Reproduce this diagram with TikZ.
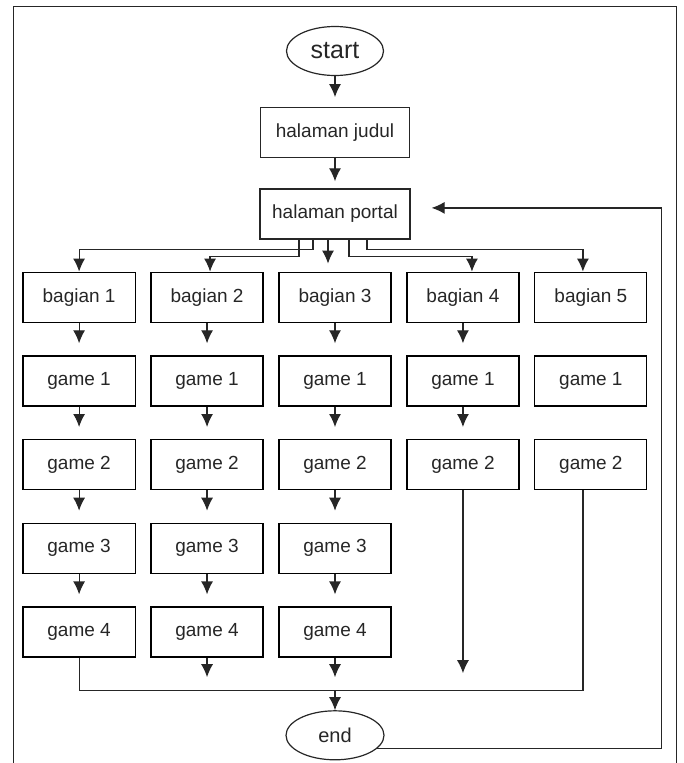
\documentclass[tikz,border=0pt]{standalone}
\usepackage{fontspec}
\setmainfont{Liberation Sans}
\usepackage{tikz}
\usetikzlibrary{matrix,positioning,shapes.geometric,arrows.meta}

\begin{document}
\begin{tikzpicture}[
    x=1pt, y=1pt,
    color=black!85,
    line width=1.2pt,
    box/.style={draw, rectangle, minimum width=112pt, minimum height=50pt,
      inner sep=2pt, font=\fontsize{19}{22}\selectfont},
    term/.style={draw, ellipse, minimum width=97pt, minimum height=49pt, inner sep=0pt},
    net/.style={
      matrix of nodes,
      nodes={box},
      column sep=14.75pt,
      row sep=32.5pt,
      inner sep=0pt
    },
    flow/.style={->, shorten >=12pt},
    >={Latex[length=13pt,width=12pt]}
]
  \useasboundingbox (0,0) rectangle (683,-763);

  % frame
  \draw[line width=1pt] (13,-780) |- (676,-6) -- (676,-780);

  % top of the chart
  \node[term, font=\fontsize{25}{28}\selectfont] (start) at (335,-51) {start};
  \node[box, minimum width=149pt, below=31pt of start] (judul) {halaman judul};
  \node[box, minimum width=150pt, below=30pt of judul] (portal) {halaman portal};

  % Define the matrix
  \matrix[net, below=31.5pt of portal] (mat) {
    bagian 1 & bagian 2 & bagian 3 & bagian 4 & bagian 5 \\
    game 1 & game 1 & game 1 & game 1 & game 1 \\
    game 2 & game 2 & game 2 & game 2 & game 2 \\
    game 3 & game 3 & game 3 & & \\
    game 4 & game 4 & game 4 & & \\
  };

  \coordinate[below=32pt of mat] (bus);
  \node[term, minimum width=98pt, font=\fontsize{20}{24}\selectfont, below=52pt of mat] (end) {end};

  \draw[->, shorten >=10pt] (start) -- (judul);
  \draw[->, shorten >=7pt] (judul) -- (portal);

  % portal to the parts
  \draw[->] ([xshift=-22pt]portal.south) -- ++(0,-10) -| (mat-1-1.north);
  \draw[->] ([xshift=-36pt]portal.south) -- ++(0,-17) -| ([xshift=3pt]mat-1-2.north);
  \draw[->, shorten >=8pt] ([xshift=-7pt]portal.south) -- ([xshift=-7pt]portal.south |- mat-1-3.north);
  \draw[->] ([xshift=14pt]portal.south) -- ++(0,-17) -| ([xshift=9pt]mat-1-4.north);
  \draw[->] ([xshift=32pt]portal.south) -- ++(0,-10) -| ([xshift=-8pt]mat-1-5.north);

  % parts to games
  \foreach \c in {1,2,3}
    \foreach \r [count=\s from 2] in {1,...,4}
      \draw[flow] (mat-\r-\c) -- (mat-\s-\c);
  \foreach \r [count=\s from 2] in {1,2}
    \draw[flow] (mat-\r-4) -- (mat-\s-4);

  % games to end
  \foreach \c in {2,3}
    \draw[->, shorten >=13pt] (mat-5-\c) -- (mat-5-\c.south |- bus);
  \draw[->, shorten >=17pt] (mat-3-4) -- (mat-3-4.south |- bus);
  \draw (mat-5-1) -- (mat-5-1.south |- bus) -| ([xshift=-8pt]mat-3-5.south);
  \draw[->] (bus) -- (end);

  % back to portal
  \draw[->, shorten >=21pt] (end.-18) -- ++(285,0) |- ([yshift=6pt]portal.east);

\end{tikzpicture}
\end{document}
